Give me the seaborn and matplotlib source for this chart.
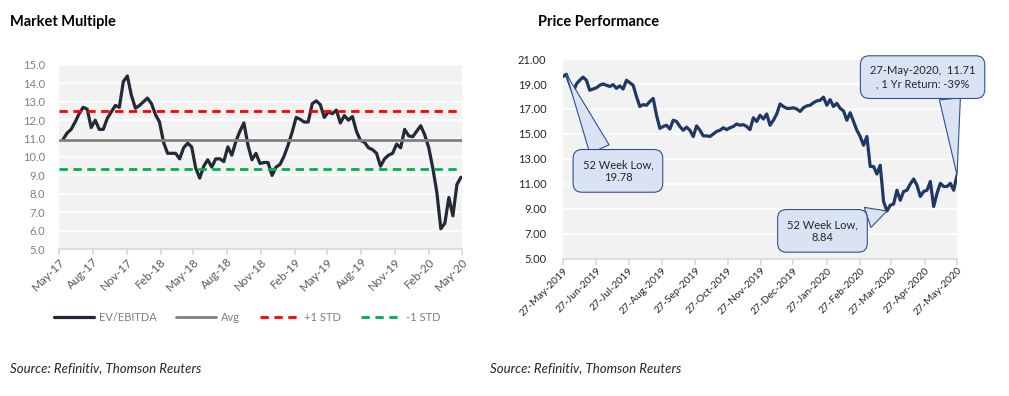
import pandas as pd
import seaborn as sns
import matplotlib.pyplot as plt
import matplotlib.dates as mdates
from matplotlib.ticker import FormatStrFormatter, MultipleLocator

# Market multiple (EV/EBITDA), roughly every 11 days
ev_ebitda = [10.96, 11.3, 11.5, 11.9, 12.35, 12.7, 12.6, 11.6, 12.0, 11.5,
             11.5, 12.1, 12.45, 12.8, 12.7, 14.1, 14.4, 13.35, 12.65, 12.8,
             13.0, 13.2, 12.9, 12.3, 11.9, 10.8, 10.2, 10.2, 10.2, 9.9,
             10.5, 10.75, 10.55, 9.4, 8.85, 9.5, 9.85, 9.45, 9.9, 9.9,
             9.75, 10.55, 10.1, 10.85, 11.4, 11.85, 10.65, 9.85, 10.2, 9.65,
             9.7, 9.7, 9.0, 9.45, 9.6, 10.05, 10.65, 11.35, 12.15, 12.05,
             11.9, 11.9, 12.9, 13.05, 12.85, 12.15, 12.45, 12.35, 12.55, 11.85,
             12.25, 12.0, 12.2, 11.4, 10.9, 10.8, 10.5, 10.4, 10.2, 9.5,
             9.9, 10.1, 10.2, 10.7, 10.5, 11.5, 11.15, 11.1, 11.4, 11.7,
             11.2, 10.5, 9.4, 8.1, 6.1, 6.4, 7.8, 6.8, 8.5, 8.9]
ev_dates = pd.date_range('2017-05-12', '2020-04-28', periods=len(ev_ebitda))
ev_avg = 10.9
ev_plus_std = 12.5
ev_minus_std = 9.35

# Share price over the last year, roughly every 3 days
price = [19.6, 19.78, 19.0, 18.3, 19.0, 19.3, 19.55, 19.3, 18.5, 18.6,
         18.7, 18.9, 19.0, 18.9, 18.8, 18.95, 18.65, 18.85, 18.6, 19.3,
         19.1, 18.9, 18.0, 17.2, 17.35, 17.3, 17.6, 17.85, 16.5, 15.45,
         15.6, 15.7, 15.4, 16.1, 16.0, 15.6, 15.3, 15.55, 15.3, 14.8,
         15.65, 15.3, 14.85, 14.85, 14.8, 15.0, 15.2, 15.3, 15.5, 15.35,
         15.5, 15.6, 15.8, 15.7, 15.75, 15.6, 15.35, 16.3, 16.0, 16.5,
         16.2, 16.6, 15.7, 16.1, 16.6, 17.4, 17.2, 17.05, 17.05, 17.1,
         17.0, 16.8, 17.1, 17.25, 17.3, 17.5, 17.65, 17.7, 17.95, 17.3,
         17.75, 17.2, 17.45, 17.05, 16.85, 16.1, 16.7, 16.0, 15.3, 14.8,
         14.1, 14.8, 12.4, 12.4, 11.8, 12.5, 9.6, 8.84, 9.3, 9.4,
         10.5, 9.7, 10.4, 10.5, 11.0, 11.4, 10.9, 10.0, 10.4, 10.5,
         11.2, 9.2, 10.25, 11.05, 10.8, 10.8, 11.05, 10.5, 11.71]
price_dates = pd.date_range('2019-05-27', '2020-05-27', periods=len(price))
price_ticks = [5, 7, 9, 11, 13, 15, 17, 19, 21]

sns.set_theme(style='whitegrid', rc={'axes.facecolor': '#f2f2f2',
                                     'grid.color': 'white',
                                     'grid.linewidth': 1.2})
plt.rcParams['font.family'] = ['Lato', 'DejaVu Sans']

fig = plt.figure(figsize=(10.09, 3.96), dpi=100)
ax1 = fig.add_axes([0.0585, 0.3712, 0.3994, 0.4647])
ax2 = fig.add_axes([0.558, 0.346, 0.3905, 0.505])

# --- Market Multiple ---
sns.lineplot(x=ev_dates, y=ev_ebitda, ax=ax1, color='#222a35', lw=2.3, label='EV/EBITDA')
ax1.axhline(ev_avg, color='#808080', lw=2, label='Avg')
ax1.axhline(ev_plus_std, color='#ff0000', lw=2, ls=(0, (3, 2)), label='+1 STD')
ax1.axhline(ev_minus_std, color='#00b050', lw=2, ls=(0, (3, 2)), label='-1 STD')
ax1.set_ylim(5, 15)
ax1.set_xlim(pd.Timestamp('2017-05-01'), pd.Timestamp('2020-05-01'))
ax1.yaxis.set_major_locator(MultipleLocator(1))
ax1.yaxis.set_major_formatter(FormatStrFormatter('%.1f'))
ax1.xaxis.set_major_locator(mdates.MonthLocator(bymonth=[2, 5, 8, 11]))
ax1.xaxis.set_major_formatter(mdates.DateFormatter('%b-%y'))
ax1.tick_params(axis='y', labelsize=8, labelcolor='#7f7f7f', length=0, pad=10)
ax1.tick_params(axis='x', labelsize=8.5, labelcolor='#595959', bottom=True,
                length=4, color='#d9d9d9', pad=1)
for lbl in ax1.get_xticklabels():
    lbl.set_rotation(45)
    lbl.set_ha('right')
    lbl.set_rotation_mode('anchor')
ax1.grid(axis='x', visible=False)
for s in ['top', 'right', 'left']:
    ax1.spines[s].set_visible(False)
ax1.spines['bottom'].set_color('#d9d9d9')
ax1.set_xlabel('')
ax1.set_ylabel('')
h, l = ax1.get_legend_handles_labels()
ax1.legend_.remove()
fig.legend(h, l, loc='center', bbox_to_anchor=(0.245, 0.198), ncol=4, frameon=False,
           fontsize=8, labelcolor='#7f7f7f', handlelength=3.6, columnspacing=1.8,
           handletextpad=0.4)

# --- Price Performance ---
sns.lineplot(x=price_dates, y=price, ax=ax2, color='#1f3864', lw=2.3)
ax2.set_ylim(5, 21)
ax2.set_xlim(pd.Timestamp('2019-05-27'), pd.Timestamp('2020-05-27'))
ax2.set_yticks(price_ticks)
ax2.yaxis.set_major_formatter(FormatStrFormatter('%.2f'))
ax2.xaxis.set_major_locator(mdates.MonthLocator(bymonthday=27))
ax2.xaxis.set_major_formatter(mdates.DateFormatter('%d-%b-%Y'))
ax2.tick_params(axis='y', labelsize=8, labelcolor='#262626', length=0, pad=12)
ax2.tick_params(axis='x', labelsize=7.5, labelcolor='#262626', bottom=True,
                length=4, color='#d9d9d9', pad=1)
for lbl in ax2.get_xticklabels():
    lbl.set_rotation(45)
    lbl.set_ha('right')
    lbl.set_rotation_mode('anchor')
ax2.grid(axis='x', visible=False)
for s in ['top', 'right', 'left']:
    ax2.spines[s].set_visible(False)
ax2.spines['bottom'].set_color('#d9d9d9')
ax2.set_xlabel('')
ax2.set_ylabel('')

box = dict(boxstyle='round,pad=0.85,rounding_size=0.8', fc='#dae3f3', ec='#2f528f', lw=0.8)
wedge = dict(arrowstyle='wedge,tail_width=1.9,shrink_factor=0.5', fc='#dae3f3',
             ec='#2f528f', lw=0.8, shrinkA=0, shrinkB=0)

ax2.annotate('52 Week Low,\n19.78', xy=(price_dates[1], price[1]),
             xytext=(pd.Timestamp('2019-07-17'), 12.05), ha='center', va='center',
             fontsize=8, color='#262626', bbox=box,
             arrowprops=dict(wedge, relpos=(0.3, 1.0)))
ax2.annotate('52 Week Low,\n8.84', xy=(price_dates[97], price[97]),
             xytext=(pd.Timestamp('2020-01-23'), 7.25), ha='center', va='center',
             fontsize=8, color='#262626', bbox=box,
             arrowprops=dict(wedge, relpos=(0.92, 0.85)))
ax2.annotate('27-May-2020,  11.71\n, 1 Yr Return: -39%', xy=(price_dates[-1], price[-1]),
             xytext=(pd.Timestamp('2020-04-25'), 19.55), ha='center', va='center',
             fontsize=8, color='#262626', bbox=box, annotation_clip=False,
             arrowprops=dict(wedge, relpos=(0.75, 0.0)))

# titles and sources
fig.text(0.01, 0.945, 'Market Multiple', fontsize=10.5, fontweight='bold', va='center', color='#000000')
fig.text(0.533, 0.945, 'Price Performance', fontsize=10.5, fontweight='bold', va='center', color='#000000')
fig.text(0.01, 0.07, 'Source: Refinitiv, Thomson Reuters', fontsize=9.5, style='italic', va='center')
fig.text(0.486, 0.07, 'Source: Refinitiv, Thomson Reuters', fontsize=9.5, style='italic', va='center')

fig.savefig('out.png', dpi=100)
